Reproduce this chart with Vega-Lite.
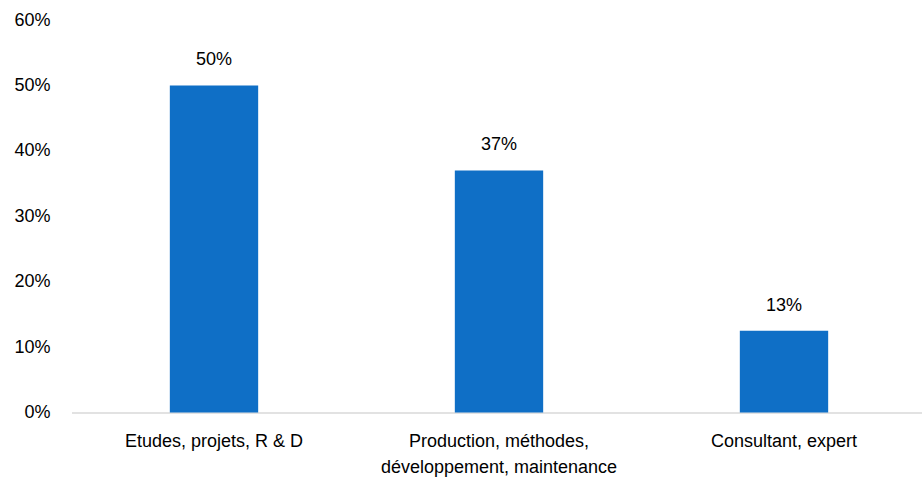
{
  "$schema": "https://vega.github.io/schema/vega-lite/v6.json",
  "autosize": "none",
  "width": 855,
  "height": 392.5,
  "padding": {"left": 71.5, "top": 20, "right": 0, "bottom": 70},
  "background": "white",
  "data": {"values": [
    {"category": "Etudes, projets, R & D", "share": 0.50},
    {"category": "Production, méthodes, développement, maintenance", "share": 0.37},
    {"category": "Consultant, expert", "share": 0.125}
  ]},
  "config": {
    "view": {"stroke": null},
    "font": "Liberation Sans"
  },
  "encoding": {
    "x": {"field": "category", "type": "nominal", "sort": null,
      "scale": {"paddingInner": 0.69, "paddingOuter": 0.345},
      "axis": {"title": null, "labelAngle": 0, "ticks": false, "domainColor": "#d9d9d9", "domainWidth": 1.5,
        "labelFont": "Liberation Sans", "labelFontSize": 18, "labelColor": "#000000", "labelPadding": 20, "labelLineHeight": 26, "labelOverlap": false, "labelLimit": 500,
        "labelExpr": "datum.label == 'Production, méthodes, développement, maintenance' ? ['Production, méthodes,', 'développement, maintenance'] : datum.label"}},
    "y": {"field": "share", "type": "quantitative",
      "scale": {"domain": [0, 0.6]},
      "axis": {"title": null, "format": ".0%", "values": [0, 0.1, 0.2, 0.3, 0.4, 0.5, 0.6], "grid": false, "ticks": false, "domain": false, "labelOverlap": false,
        "labelFont": "Liberation Sans", "labelFontSize": 18, "labelColor": "#000000", "labelPadding": 21.5}}
  },
  "layer": [
    {"mark": {"type": "bar", "color": "#0f6fc6"}},
    {"mark": {"type": "text", "font": "Liberation Sans", "fontSize": 18, "color": "#000000", "baseline": "middle", "dy": -25},
     "encoding": {"text": {"field": "share", "type": "quantitative", "format": ".0%"}}}
  ]
}
